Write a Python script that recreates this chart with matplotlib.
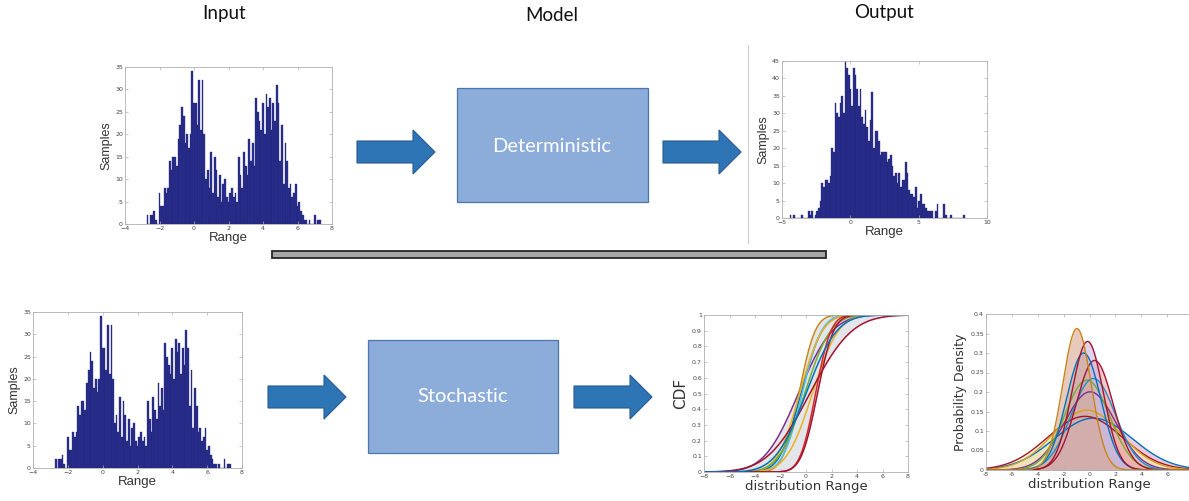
import math
import numpy as np
import matplotlib
matplotlib.use('Agg')
import matplotlib.pyplot as plt
from matplotlib.patches import Rectangle, FancyArrow

# input histogram (same data top and bottom), bins of 0.1 starting at -2.7
input_start = -2.7
input_width = 0.1
input_counts = [2, 0, 2, 2, 3, 1, 0, 7, 4, 4, 8, 7, 8, 14, 12, 15, 15, 13, 19, 22,
                26, 24, 18, 20, 17, 20, 34, 27, 27, 22, 32, 21, 32, 20, 10, 12, 8, 16, 7, 15,
                12, 6, 11, 5, 9, 10, 6, 5, 7, 8, 6, 7, 5, 15, 11, 8, 16, 13, 11, 19,
                14, 18, 13, 28, 25, 23, 21, 27, 20, 29, 26, 28, 21, 27, 23, 31, 27, 14, 22, 9,
                18, 14, 8, 9, 6, 7, 9, 4, 5, 3, 2, 1, 1, 0, 1, 0, 0, 2, 0, 1, 1]

# output histogram of the deterministic model
output_start = -4.38
output_width = 0.1222
output_counts = [1, 0, 1, 0, 0, 0, 0, 1, 0, 0, 0, 2, 1, 2, 0, 1, 2, 3, 5, 10,
                 9, 11, 11, 10, 12, 20, 19, 33, 30, 29, 33, 35, 30, 45, 43, 41, 37, 32, 43, 41,
                 37, 32, 37, 29, 27, 31, 26, 22, 28, 36, 20, 25, 25, 22, 18, 19, 19, 19, 16, 17,
                 18, 15, 12, 13, 10, 13, 9, 11, 11, 16, 13, 8, 7, 7, 6, 9, 3, 5, 7, 4,
                 4, 3, 2, 2, 2, 2, 0, 2, 4, 0, 0, 0, 4, 1, 0, 0, 1, 0, 0, 0,
                 0, 0, 0, 0, 1]

# stochastic output: normal distributions (mean, std)
cdf_mu = [-0.6, -0.55, -0.4, -0.3, -0.5, 0.5, -0.1, 0.75, 0.9, 0.3, 0.0]
cdf_sigma = [2.1, 1.0, 1.3, 1.2, 1.4, 1.6, 1.6, 0.95, 1.0, 2.6, 1.9]
cdf_colors = ['#7E2F8E', '#C8861A', '#0072BD', '#4DBEEE', '#EDB120', '#EDB120',
              '#77AC30', '#D62728', '#A2142F', '#A2142F', '#0072BD']

# ... and off the PDF panel
pdf_mu = [0.3, -0.35, -0.2, 0.05, -0.2, 0.3, 0.4, -0.45, -0.15, -0.97]
pdf_sigma = [3.0, 2.9, 2.6, 1.99, 1.73, 1.70, 1.42, 1.33, 1.21, 1.10]
pdf_edges = ['#0072BD', '#A2142F', '#D9A020', '#7E2F8E', '#77AC30', '#1F8FD0',
             '#A2142F', '#0072BD', '#A2142F', '#C8861A']
pdf_fills = ['#E4A6C6', '#EEF2B8', '#F2E4B4', '#D4C4E4', '#E2EAB4', '#F0B4B0',
             '#F0A8A8', '#A8C2D8', '#D0B4E0', '#D8A890']

W, H = 1189, 501
fig = plt.figure(figsize=(W / 100, H / 100), dpi=100)

# background layer in pixel coordinates for boxes, arrows and titles
bg = fig.add_axes([0, 0, 1, 1])
bg.set_xlim(0, W)
bg.set_ylim(H, 0)
bg.axis('off')

title_font = ['Lato', 'DejaVu Sans']
bg.text(224, 13, 'Input', ha='center', va='center', fontsize=13.5, family=title_font, color='#111111')
bg.text(552, 15, 'Model', ha='center', va='center', fontsize=13.5, family=title_font, color='#111111')
bg.text(884, 12, 'Output', ha='center', va='center', fontsize=13.5, family=title_font, color='#111111')

box_face = '#8CACD9'
box_edge = '#4E74AC'
bg.add_patch(Rectangle((457, 88), 191, 114, facecolor=box_face, edgecolor=box_edge, lw=0.9))
bg.text(552, 146, 'Deterministic', ha='center', va='center', fontsize=14.5, family=title_font, color='white')
bg.add_patch(Rectangle((368, 340), 190, 113, facecolor=box_face, edgecolor=box_edge, lw=0.9))
bg.text(463, 397, 'Stochastic', ha='center', va='center', fontsize=14.5, family=title_font, color='white')

arrow_face = '#2E75B6'
arrow_edge = '#2A5A92'
for x0, yc in [(357, 152), (663, 152), (268, 397), (574, 397)]:
    bg.add_patch(FancyArrow(x0, yc, 78, 0, width=22, head_width=44, head_length=22,
                            length_includes_head=True, facecolor=arrow_face,
                            edgecolor=arrow_edge, lw=0.8))

bg.add_patch(Rectangle((272, 251), 554, 7, facecolor='#A6A6A6', edgecolor='#262626', lw=1.3))
bg.plot([748, 748], [45, 243], color='#CCCCCC', lw=0.8)


def px_axes(x0, y0, x1, y1):
    return fig.add_axes([x0 / W, 1 - y1 / H, (x1 - x0) / W, (y1 - y0) / H])


def style(ax):
    for s in ax.spines.values():
        s.set_color('#B0B0B0')
        s.set_linewidth(0.6)
    ax.tick_params(direction='in', length=2, width=0.5, colors='#B0B0B0',
                   labelcolor='#444444', labelsize=4.5, pad=1.5,
                   top=True, right=True)


def hist(ax, start, width, counts):
    pos = start + np.arange(len(counts)) * width
    ax.bar(pos, counts, width=width, color='#2B2F8F', edgecolor='#1E2170', lw=0.25)


lab_font = ['Liberation Sans', 'DejaVu Sans']

# top input histogram
ax1 = px_axes(125, 67, 332, 224)
hist(ax1, input_start, input_width, input_counts)
ax1.set_xlim(-4, 8)
ax1.set_ylim(0, 35)
ax1.set_xticks(range(-4, 9, 2))
ax1.set_yticks(range(0, 36, 5))
ax1.set_xlabel('Range', fontsize=9.5, family=lab_font, color='#333333', labelpad=1)
ax1.set_ylabel('Samples', fontsize=9, family=lab_font, color='#333333', labelpad=2)
style(ax1)

# deterministic output histogram
ax2 = px_axes(782, 61, 987, 218)
hist(ax2, output_start, output_width, output_counts)
ax2.set_xlim(-5, 10)
ax2.set_ylim(0, 45)
ax2.set_xticks([-5, 0, 5, 10])
ax2.set_yticks(range(0, 46, 5))
ax2.set_xlabel('Range', fontsize=9.5, family=lab_font, color='#333333', labelpad=1)
ax2.set_ylabel('Samples', fontsize=9, family=lab_font, color='#333333', labelpad=2)
style(ax2)

# bottom input histogram
ax3 = px_axes(33, 312, 242, 468)
hist(ax3, input_start, input_width, input_counts)
ax3.set_xlim(-4, 8)
ax3.set_ylim(0, 35)
ax3.set_xticks(range(-4, 9, 2))
ax3.set_yticks(range(0, 36, 5))
ax3.set_xlabel('Range', fontsize=9.5, family=lab_font, color='#333333', labelpad=1)
ax3.set_ylabel('Samples', fontsize=9, family=lab_font, color='#333333', labelpad=2)
style(ax3)

xs = np.linspace(-8, 8, 500)
erf = np.vectorize(math.erf)

# CDF panel
ax4 = px_axes(704, 315, 908, 472)
cdfs = [0.5 * (1 + erf((xs - m) / (s * math.sqrt(2)))) for m, s in zip(cdf_mu, cdf_sigma)]
ax4.fill_between(xs, np.min(cdfs, axis=0), np.max(cdfs, axis=0), color='#E2E6EA', lw=0)
for c, col in zip(cdfs, cdf_colors):
    ax4.plot(xs, c, color=col, lw=1.1)
ax4.set_xlim(-8, 8)
ax4.set_ylim(0, 1)
ax4.set_xticks(range(-8, 9, 2))
ax4.set_yticks(np.arange(0, 1.01, 0.1))
ax4.set_yticklabels(['0', '0.1', '0.2', '0.3', '0.4', '0.5', '0.6', '0.7', '0.8', '0.9', '1'])
ax4.set_xlabel('distribution Range', fontsize=9.5, color='#333333', labelpad=1)
ax4.set_ylabel('CDF', fontsize=11, color='#333333', labelpad=3)
style(ax4)

# PDF panel (its right edge runs past the picture, so the "8" label is not shown)
ax5 = px_axes(986, 314, 1193, 470)
for m, s, ec, fc in zip(pdf_mu, pdf_sigma, pdf_edges, pdf_fills):
    y = np.exp(-0.5 * ((xs - m) / s) ** 2) / (s * math.sqrt(2 * math.pi))
    ax5.fill_between(xs, 0, y, color=fc, alpha=0.6, lw=0)
    ax5.plot(xs, y, color=ec, lw=1.0)
ax5.set_xlim(-8, 8)
ax5.set_ylim(0, 0.4)
ax5.set_xticks(range(-8, 9, 2))
ax5.set_xticklabels(['-8', '-6', '-4', '-2', '0', '2', '4', '6', ''])
ax5.set_yticks(np.arange(0, 0.401, 0.05))
ax5.set_yticklabels(['0', '0.05', '0.1', '0.15', '0.2', '0.25', '0.3', '0.35', '0.4'])
ax5.set_xlabel('distribution Range', fontsize=9.5, color='#333333', labelpad=1)
ax5.set_ylabel('Probability Density', fontsize=9, color='#333333', labelpad=2)
style(ax5)

fig.savefig('out.png', dpi=100)
